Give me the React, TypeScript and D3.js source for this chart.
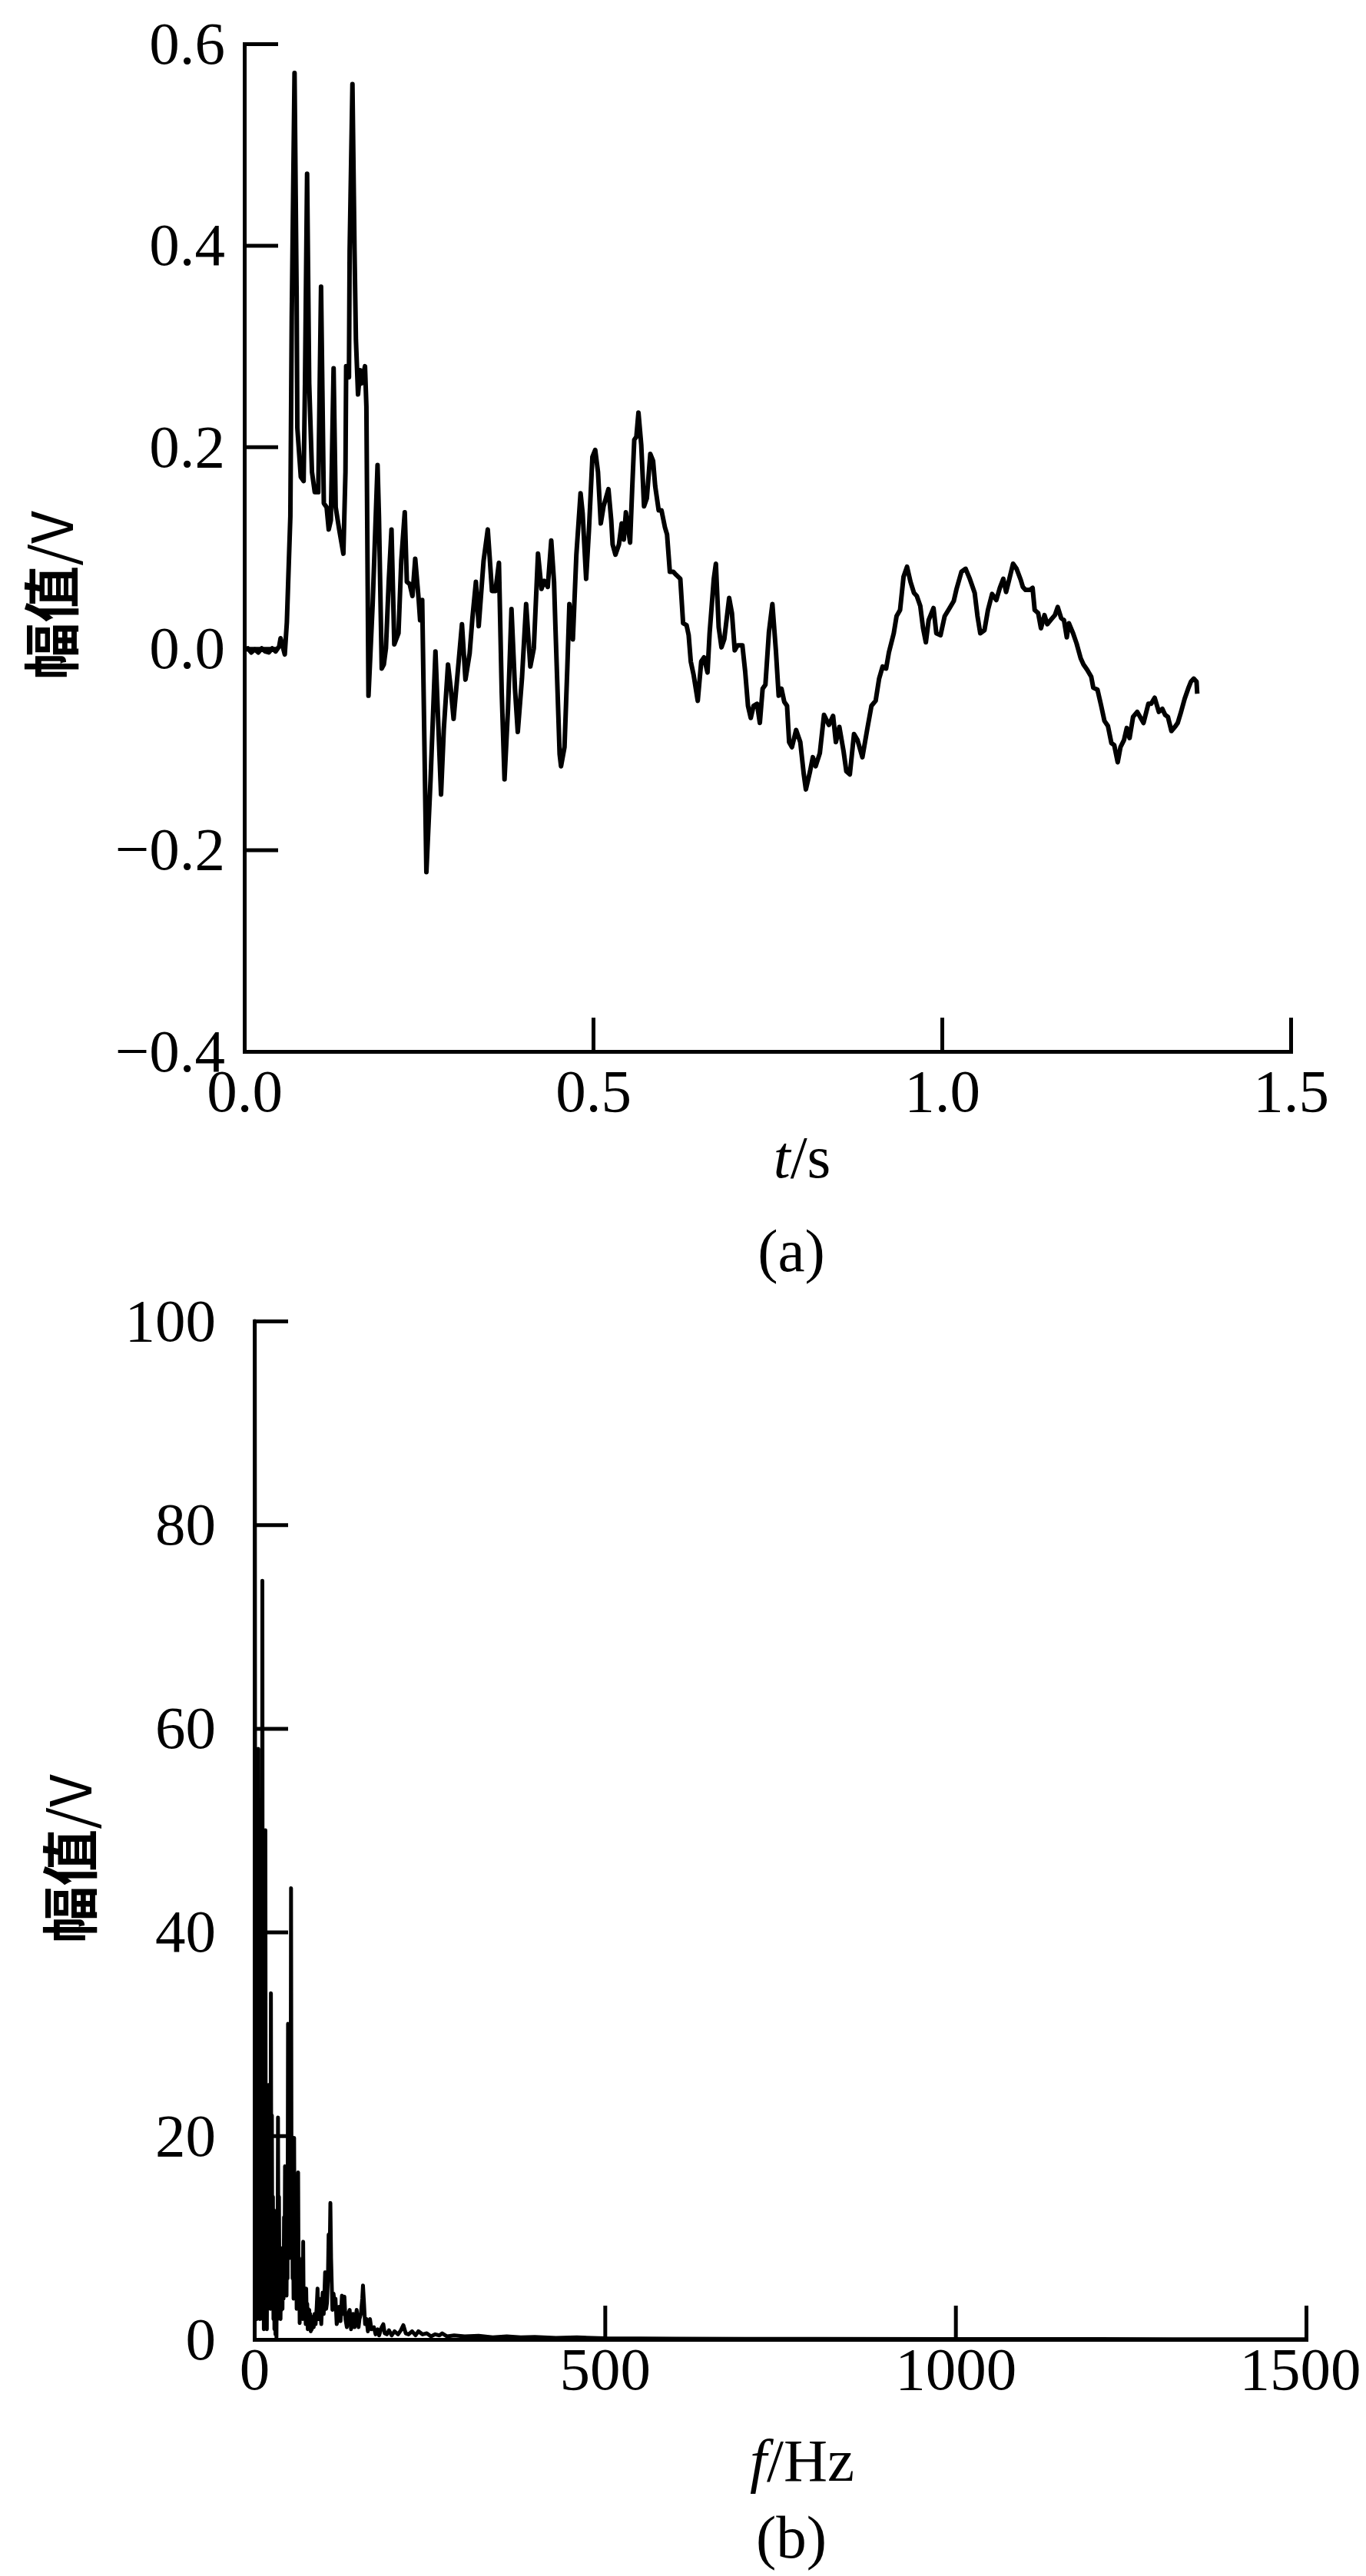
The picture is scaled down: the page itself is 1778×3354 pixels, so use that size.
import React, { useRef, useEffect } from 'react';
import * as d3 from 'd3';

// tick values for both panels
const voltTicks = [-0.4, -0.2, 0, 0.2, 0.4, 0.6];
const timeTicks = [0, 0.5, 1.0, 1.5];
const ampTicks = [0, 20, 40, 60, 80, 100];
const freqTicks = [0, 500, 1000, 1500];

// (a) time signal: [t (s), amplitude (V)]
const waveform: [number, number][] = [
  [0.000, -0.002], [0.005, 0.000], [0.010, -0.004], [0.015, -0.001], [0.020, -0.004], [0.025, 0.000],
  [0.030, -0.003], [0.035, -0.004], [0.040, 0.000], [0.045, -0.003], [0.050, 0.002], [0.052, 0.010],
  [0.058, -0.006], [0.061, 0.026], [0.066, 0.131], [0.068, 0.328], [0.072, 0.571], [0.075, 0.350],
  [0.076, 0.219], [0.081, 0.170], [0.085, 0.166], [0.087, 0.263], [0.090, 0.471], [0.093, 0.263],
  [0.097, 0.175], [0.101, 0.155], [0.106, 0.155], [0.110, 0.359], [0.114, 0.144], [0.118, 0.140],
  [0.121, 0.118], [0.124, 0.127], [0.128, 0.278], [0.131, 0.140], [0.136, 0.118], [0.142, 0.094],
  [0.145, 0.175], [0.146, 0.280], [0.150, 0.269], [0.151, 0.394], [0.155, 0.560], [0.158, 0.394],
  [0.160, 0.306], [0.163, 0.252], [0.166, 0.276], [0.168, 0.263], [0.173, 0.280], [0.175, 0.240],
  [0.178, -0.047], [0.184, 0.044], [0.191, 0.182], [0.193, 0.131], [0.197, -0.020], [0.200, -0.016],
  [0.203, 0.000], [0.207, 0.066], [0.211, 0.118], [0.215, 0.004], [0.221, 0.015], [0.225, 0.087],
  [0.230, 0.135], [0.233, 0.066], [0.237, 0.064], [0.241, 0.052], [0.245, 0.089], [0.250, 0.048],
  [0.252, 0.028], [0.255, 0.048], [0.261, -0.222], [0.267, -0.130], [0.274, -0.003], [0.282, -0.145],
  [0.286, -0.080], [0.292, -0.016], [0.296, -0.040], [0.300, -0.070], [0.312, 0.024], [0.317, -0.031],
  [0.323, -0.005], [0.327, 0.030], [0.332, 0.066], [0.336, 0.022], [0.343, 0.087], [0.349, 0.118],
  [0.355, 0.057], [0.360, 0.057], [0.365, 0.085], [0.369, -0.044], [0.373, -0.130], [0.378, -0.060],
  [0.383, 0.039], [0.388, -0.040], [0.392, -0.083], [0.398, -0.030], [0.404, 0.044], [0.410, -0.018],
  [0.415, 0.000], [0.421, 0.094], [0.426, 0.059], [0.430, 0.067], [0.435, 0.061], [0.440, 0.107],
  [0.444, 0.066], [0.446, 0.021], [0.452, -0.105], [0.454, -0.117], [0.459, -0.098], [0.463, -0.020],
  [0.466, 0.044], [0.471, 0.009], [0.476, 0.093], [0.482, 0.154], [0.485, 0.134], [0.490, 0.069],
  [0.494, 0.117], [0.499, 0.190], [0.503, 0.197], [0.507, 0.175], [0.511, 0.124], [0.515, 0.141],
  [0.522, 0.158], [0.526, 0.127], [0.528, 0.103], [0.532, 0.093], [0.537, 0.103], [0.541, 0.124],
  [0.544, 0.108], [0.547, 0.135], [0.553, 0.105], [0.556, 0.158], [0.559, 0.207], [0.562, 0.210],
  [0.565, 0.234], [0.569, 0.202], [0.573, 0.141], [0.577, 0.149], [0.582, 0.193], [0.586, 0.186],
  [0.589, 0.161], [0.594, 0.137], [0.598, 0.137], [0.603, 0.120], [0.606, 0.113], [0.610, 0.076],
  [0.615, 0.076], [0.619, 0.073], [0.625, 0.069], [0.629, 0.025], [0.634, 0.023], [0.637, 0.013],
  [0.640, -0.013], [0.644, -0.026], [0.650, -0.052], [0.655, -0.013], [0.659, -0.009], [0.664, -0.024],
  [0.667, 0.015], [0.673, 0.069], [0.676, 0.084], [0.680, 0.021], [0.684, 0.001], [0.688, 0.009],
  [0.695, 0.050], [0.699, 0.035], [0.703, -0.002], [0.707, 0.003], [0.714, 0.003], [0.718, -0.023],
  [0.722, -0.057], [0.726, -0.069], [0.730, -0.057], [0.735, -0.055], [0.739, -0.074], [0.743, -0.040],
  [0.747, -0.036], [0.752, 0.016], [0.757, 0.044], [0.762, -0.002], [0.766, -0.047], [0.770, -0.040],
  [0.774, -0.053], [0.778, -0.057], [0.781, -0.093], [0.785, -0.098], [0.791, -0.081], [0.797, -0.093],
  [0.802, -0.125], [0.805, -0.140], [0.811, -0.122], [0.815, -0.108], [0.819, -0.117], [0.825, -0.104],
  [0.831, -0.066], [0.838, -0.076], [0.844, -0.067], [0.848, -0.093], [0.853, -0.078], [0.859, -0.102],
  [0.863, -0.122], [0.868, -0.125], [0.874, -0.085], [0.879, -0.091], [0.886, -0.108], [0.893, -0.080],
  [0.899, -0.057], [0.905, -0.052], [0.910, -0.030], [0.915, -0.018], [0.920, -0.020], [0.924, -0.004],
  [0.931, 0.015], [0.935, 0.032], [0.940, 0.038], [0.945, 0.071], [0.950, 0.081], [0.955, 0.066],
  [0.960, 0.055], [0.964, 0.052], [0.969, 0.042], [0.973, 0.020], [0.977, 0.006], [0.981, 0.028],
  [0.988, 0.040], [0.992, 0.015], [0.998, 0.013], [1.004, 0.032], [1.011, 0.040], [1.017, 0.047],
  [1.021, 0.059], [1.028, 0.076], [1.034, 0.079], [1.040, 0.069], [1.047, 0.055], [1.051, 0.032],
  [1.055, 0.015], [1.061, 0.018], [1.066, 0.038], [1.072, 0.054], [1.078, 0.048], [1.083, 0.060],
  [1.088, 0.069], [1.092, 0.056], [1.096, 0.067], [1.102, 0.084], [1.107, 0.079], [1.113, 0.068],
  [1.116, 0.061], [1.120, 0.058], [1.126, 0.058], [1.130, 0.060], [1.133, 0.038], [1.138, 0.035],
  [1.142, 0.020], [1.147, 0.033], [1.151, 0.024], [1.157, 0.029], [1.162, 0.033], [1.166, 0.041],
  [1.171, 0.030], [1.175, 0.028], [1.179, 0.011], [1.182, 0.025], [1.188, 0.015], [1.193, 0.005],
  [1.199, -0.010], [1.203, -0.016], [1.208, -0.021], [1.214, -0.028], [1.217, -0.039], [1.223, -0.041],
  [1.228, -0.056], [1.233, -0.072], [1.238, -0.077], [1.243, -0.094], [1.247, -0.096], [1.252, -0.113],
  [1.256, -0.098], [1.261, -0.091], [1.265, -0.079], [1.269, -0.089], [1.274, -0.068], [1.280, -0.063],
  [1.289, -0.074], [1.296, -0.055], [1.300, -0.055], [1.305, -0.049], [1.311, -0.063], [1.316, -0.060],
  [1.320, -0.066], [1.324, -0.068], [1.329, -0.082], [1.335, -0.077], [1.338, -0.074], [1.342, -0.065],
  [1.348, -0.050], [1.353, -0.040], [1.357, -0.033], [1.361, -0.030], [1.365, -0.033], [1.366, -0.045],
];

// (b) spectrum: [f (Hz), amplitude]
const spectrum: [number, number][] = [
  [0, 100], [0.7, 100], [1.4, 22], [2.1, 3], [2.9, 40], [3.6, 2], [4.3, 26], [5.0, 4], [5.7, 58],
  [6.4, 3], [7.1, 46], [7.9, 2], [8.6, 33], [9.3, 6], [10.0, 22], [10.7, 3], [11.5, 74.5], [12.2, 2],
  [12.9, 30], [13.6, 1], [14.3, 18], [15.1, 3], [15.8, 50], [16.5, 2], [17.2, 24], [17.9, 1], [18.7, 12],
  [19.4, 4], [20.1, 18], [20.8, 25], [21.5, 5], [22.2, 16], [23.0, 3], [23.7, 34], [24.4, 8], [25.1, 22],
  [25.8, 4], [26.6, 14], [27.3, 2], [28.0, 12.7], [28.7, 1], [29.4, 6], [30.2, 0.5], [30.9, 4], [31.6, 0.2],
  [32.3, 8], [33.0, 2], [33.8, 21.8], [34.5, 6], [35.2, 14], [35.9, 4], [36.6, 9], [37.4, 2], [38.1, 6],
  [38.8, 2.9], [39.5, 7], [40.2, 3], [40.9, 9], [41.7, 4], [42.4, 12], [43.1, 6], [43.8, 17], [44.5, 5],
  [45.3, 8], [46.0, 4.3], [46.7, 12], [47.4, 6], [48.1, 31], [48.8, 10], [49.6, 24], [50.3, 8], [51.0, 30],
  [51.7, 14], [52.4, 44.3], [53.2, 9], [53.9, 18], [54.6, 6], [55.3, 11], [56.0, 4], [56.8, 19.8], [57.5, 7],
  [58.2, 13], [58.9, 5.7], [59.6, 10], [60.4, 3], [61.1, 9], [61.8, 4], [62.5, 16.4], [63.2, 5], [64.0, 8],
  [64.7, 1.6], [65.4, 6], [66.1, 2], [66.8, 7], [67.6, 3], [68.3, 6], [69.0, 2], [69.7, 9.6], [70.4, 3],
  [71.2, 5], [71.9, 2.9], [72.6, 4], [73.3, 1.5], [74.0, 5], [74.8, 2], [75.5, 3.5], [76.2, 1], [76.9, 3],
  [77.6, 1.2], [78.4, 2.9], [79.1, 1], [79.8, 2.5], [80.5, 0.8], [81.2, 2], [82.0, 1], [83, 2.2], [84.7, 1.2],
  [86, 2.5], [87.5, 1.5], [89, 3.2], [90.2, 5], [91.5, 2], [93, 4], [94, 2.9], [95.5, 1.5], [97.5, 4.6],
  [99, 2.5], [101, 6.6], [102.5, 3], [103.7, 3.6], [105, 6], [106, 10.3], [107, 6], [108.5, 13.4], [109.5, 8],
  [111.4, 2.9], [113, 4.5], [114.5, 3.5], [115.8, 4], [117.5, 1.5], [119.4, 2], [121, 3.2], [123, 1.8],
  [125, 4.3], [127, 2.5], [128.5, 4.2], [130, 2], [132, 1.2], [134, 2.5], [136, 2.9], [138, 1], [141, 2.5],
  [143, 1.2], [146, 2.9], [148.7, 1.2], [150, 2], [152, 2.5], [154, 4], [155, 5.3], [156.5, 3.5], [158, 1.5],
  [160, 2], [162, 0.8], [165, 2], [167, 1], [170.6, 1.2], [173, 0.5], [176, 1], [178, 0.4], [181.6, 1.2],
  [184, 1.5], [186, 0.6], [189, 0.5], [192, 0.9], [196, 0.4], [200, 0.8], [205, 0.5], [209, 0.9], [212.6, 1.4],
  [216, 0.6], [220, 0.5], [225, 0.8], [230, 0.4], [234, 0.8], [240, 0.5], [246, 0.6], [252, 0.3], [258, 0.5],
  [264, 0.4], [268, 0.6], [275, 0.3], [285, 0.4], [300, 0.3], [320, 0.35], [340, 0.2], [360, 0.3], [380, 0.2],
  [400, 0.25], [430, 0.15], [460, 0.2], [500, 0.12], [550, 0.1], [600, 0.08], [700, 0.06], [800, 0.05],
  [1000, 0.04], [1200, 0.03], [1500, 0.02],
];

const SERIF = '"Liberation Serif", "Times New Roman", serif';
const CJK = '"Noto Sans CJK SC", "Noto Sans", sans-serif';
const TICK_FONT = 79;

const styleAxis = (g: any) => {
  g.attr('font-family', null).attr('font-size', null);
  g.select('path.domain').attr('stroke', '#000').attr('stroke-width', 5).attr('stroke-linecap', 'square');
  g.selectAll('.tick line').attr('stroke', '#000').attr('stroke-width', 5);
  g.selectAll('.tick text')
    .attr('font-family', SERIF)
    .attr('font-size', TICK_FONT)
    .attr('fill', '#000');
};

const yTitle = (svg: any, x: number, y: number) => {
  const t = svg.append('text')
    .attr('transform', `translate(${x},${y}) rotate(-90)`)
    .attr('text-anchor', 'middle')
    .attr('dominant-baseline', 'central')
    .attr('font-family', CJK)
    .attr('font-size', 74);
  t.append('tspan').attr('font-weight', 'bold').text('幅值');
  t.append('tspan').text('/V');
};

const App = () => {
  const ref = useRef<SVGSVGElement>(null);

  useEffect(() => {
    if (!ref.current) return;
    const svg = d3.select(ref.current);
    svg.selectAll('*').remove();

    // ---- (a) waveform ----
    const xa = d3.scaleLinear().domain([0, 1.5]).range([318, 1680]);
    const ya = d3.scaleLinear().domain([-0.4, 0.6]).range([1369, 57]);
    const fmt1 = d3.format('.1f');

    svg.append('g')
      .attr('transform', `translate(${xa(0)},0)`)
      .call(d3.axisLeft(ya).tickValues(voltTicks).tickSize(-44).tickSizeOuter(0).tickPadding(25).tickFormat(d => fmt1(d as number)))
      .call(styleAxis);

    svg.append('g')
      .attr('transform', `translate(0,${ya(-0.4)})`)
      .call(d3.axisBottom(xa).tickValues(timeTicks).tickSize(-44).tickSizeOuter(0).tickPadding(22).tickFormat(d => fmt1(d as number)))
      .call(styleAxis);

    const lineA = d3.line<[number, number]>()
      .x(d => xa(d[0]))
      .y(d => ya(d[1]));

    svg.append('path')
      .datum(waveform)
      .attr('fill', 'none')
      .attr('stroke', '#000')
      .attr('stroke-width', 6)
      .attr('stroke-linejoin', 'round')
      .attr('d', lineA);

    yTitle(svg, 62, 775);

    const tLabel = svg.append('text')
      .attr('x', 1044).attr('y', 1533)
      .attr('text-anchor', 'middle')
      .attr('font-family', SERIF)
      .attr('font-size', TICK_FONT);
    tLabel.append('tspan').attr('font-style', 'italic').text('t');
    tLabel.append('tspan').text('/s');

    svg.append('text')
      .attr('x', 1030).attr('y', 1655)
      .attr('text-anchor', 'middle')
      .attr('font-family', SERIF)
      .attr('font-size', TICK_FONT)
      .text('(a)');

    // ---- (b) spectrum ----
    const xb = d3.scaleLinear().domain([0, 1500]).range([331, 1700]);
    const yb = d3.scaleLinear().domain([0, 100]).range([3046, 1720]);

    svg.append('g')
      .attr('transform', `translate(${xb(0)},0)`)
      .call(d3.axisLeft(yb).tickValues(ampTicks).tickSize(-44).tickSizeOuter(0).tickPadding(50).tickFormat(d3.format('d')))
      .call(styleAxis);

    const xAxisB = svg.append('g')
      .attr('transform', `translate(0,${yb(0)})`)
      .call(d3.axisBottom(xb).tickValues(freqTicks).tickSize(-44).tickSizeOuter(0).tickPadding(9).tickFormat(d3.format('d')))
      .call(styleAxis);
    // keep the last label inside the page
    xAxisB.selectAll('.tick text').filter((d: any) => d === 1500).attr('dx', -8);

    const lineB = d3.line<[number, number]>()
      .x(d => xb(d[0]))
      .y(d => yb(d[1]));

    svg.append('path')
      .datum(spectrum)
      .attr('fill', 'none')
      .attr('stroke', '#000')
      .attr('stroke-width', 5)
      .attr('stroke-linejoin', 'round')
      .attr('d', lineB);

    yTitle(svg, 86, 2420);

    const fLabel = svg.append('text')
      .attr('x', 1044).attr('y', 3230)
      .attr('text-anchor', 'middle')
      .attr('font-family', SERIF)
      .attr('font-size', TICK_FONT);
    fLabel.append('tspan').attr('font-style', 'italic').text('f');
    fLabel.append('tspan').text('/Hz');

    svg.append('text')
      .attr('x', 1030).attr('y', 3330)
      .attr('text-anchor', 'middle')
      .attr('font-family', SERIF)
      .attr('font-size', TICK_FONT)
      .text('(b)');
  }, []);

  return (
    <svg
      ref={ref}
      width={1778}
      height={3354}
      style={{ position: 'absolute', left: 0, top: 0, background: '#fff' }}
    />
  );
};

export default App;
